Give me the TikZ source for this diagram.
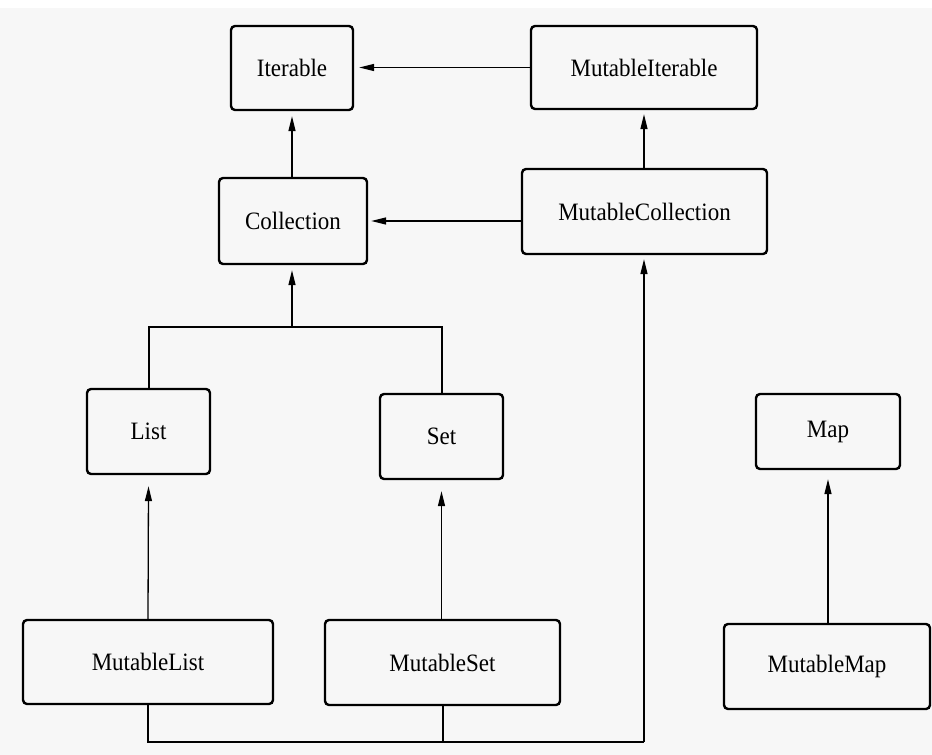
\documentclass[tikz,border=0pt]{standalone}
\usepackage{fontspec}
\setmainfont[FakeStretch=0.92]{Liberation Serif}
\usetikzlibrary{arrows.meta}
\begin{document}
\begin{tikzpicture}[x=1pt,y=-1pt,
  box/.style={draw, line width=2.4pt, rounded corners=4pt, inner sep=0pt, fill=white!97!black,
    font=\fontsize{25}{29}\selectfont},
  arr/.style={line width=1.3pt, -{Triangle[length=15pt,width=7pt]}},
  bus/.style={line width=2pt}]
\useasboundingbox (0,0) rectangle (932,755);
\fill[white!97!black] (0,8) rectangle (932,755);
\node[box, minimum width=122pt, minimum height=84pt] (it) at (292,68) {Iterable};
\node[box, minimum width=226pt, minimum height=83pt] (mit) at (644,67.5) {MutableIterable};
\node[box, minimum width=148pt, minimum height=86pt] (col) at (293,221) {Collection};
\node[box, minimum width=245pt, minimum height=85pt] (mcol) at (644.5,211.5) {MutableCollection};
\node[box, minimum width=123pt, minimum height=85pt] (list) at (148.5,431.5) {List};
\node[box, minimum width=123pt, minimum height=85pt] (set) at (441.5,436.5) {Set};
\node[box, minimum width=144pt, minimum height=75pt] (map) at (828,431.5) {Map};
\node[box, minimum width=206pt, minimum height=85pt] (mmap) at (827,666.5) {MutableMap};
\node[box, minimum width=250pt, minimum height=84pt] (mlist) at (148,662) {MutableList};
\node[box, minimum width=235pt, minimum height=85pt] (mset) at (442.5,662.5) {MutableSet};
\coordinate (j1) at (292,327);
\coordinate (j2) at (148,742);
% upper connectors
\draw[arr] (mit.west) -- ([xshift=5pt]it.east |- mit.west);
\draw[arr] (col.north -| it.south) -- ([yshift=-5pt]it.south);
\draw[arr] (mcol.north -| mit.south) -- ([yshift=-4pt]mit.south);
\draw[arr] (mcol.west |- col.east) -- ([xshift=3pt]col.east);
% list/set to collection
\draw[bus] (list.north) |- (j1) -| (set.north);
\draw[arr] (j1) -- ([yshift=-5pt]j1 |- col.south);
% mutable to immutable
\draw[arr] (mlist.north) -- ([yshift=-11pt]list.south);
\draw[arr] (mset.north -| set.south) -- ([yshift=-11pt]set.south);
\draw[arr] (mmap.north -| map.south) -- ([yshift=-9pt]map.south);
% bottom bus
\draw[bus] (mlist.south) |- (j2 -| mit.south);
\draw[bus] (mset.south) -- (mset.south |- j2);
\draw[arr] (j2 -| mit.south) -- ([yshift=-4pt]mcol.south -| mit.south);
\end{tikzpicture}
\end{document}
